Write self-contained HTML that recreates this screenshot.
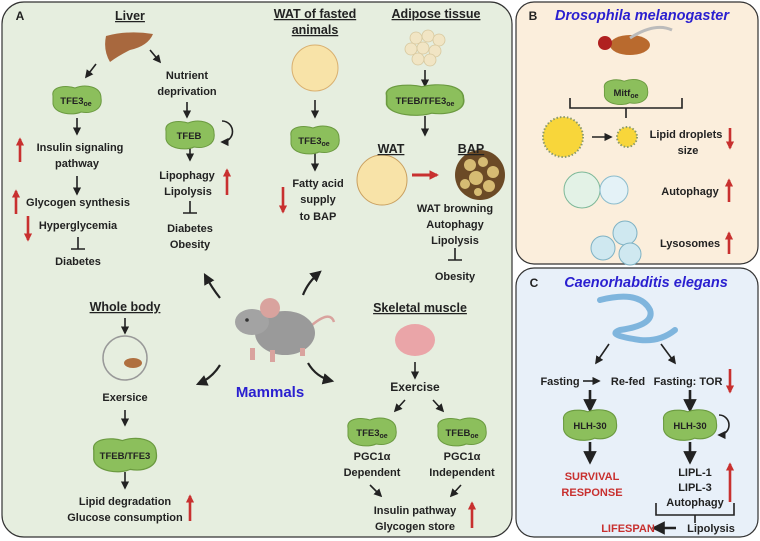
<!DOCTYPE html>
<html><head><meta charset="utf-8"><style>
html,body{margin:0;padding:0;background:#fff}
svg{display:block}
text{font-family:"Liberation Sans",Arial,sans-serif;font-weight:bold;font-size:11px;fill:#222;text-anchor:middle}
.t{font-size:12.5px;text-decoration:underline}
.red{fill:#c8302f}
.blue{fill:#2a1fd0;font-style:italic;font-size:14.5px}
.sm{font-size:9.5px}
</style></head><body>
<svg width="760" height="541" viewBox="0 0 760 541" xmlns="http://www.w3.org/2000/svg">
<defs>
<marker id="a" viewBox="0 0 10 10" refX="8" refY="5" markerWidth="5.2" markerHeight="5.2" orient="auto"><path d="M0,0L10,5L0,10z" fill="#222"/></marker>
<marker id="r" viewBox="0 0 10 10" refX="8" refY="5" markerWidth="3.2" markerHeight="3.2" orient="auto"><path d="M0,0L10,5L0,10z" fill="#c8302f"/></marker>
<path id="blob" d="M-24,-4 C-26,-14 -10,-15 -2,-12 C8,-16 24,-14 24,-2 C26,10 14,14 4,12 C-4,16 -22,14 -24,4 Z" fill="#8cbf5c" stroke="#6b9a40" stroke-width="1"/>
</defs>
<rect x="2" y="2" width="510" height="535" rx="22" fill="#e6eedf" stroke="#333" stroke-width="1.2"/>
<rect x="516" y="2" width="242" height="262" rx="18" fill="#fbeedc" stroke="#333" stroke-width="1.2"/>
<rect x="516" y="268" width="242" height="269" rx="18" fill="#e8f0f9" stroke="#333" stroke-width="1.2"/>

<g stroke="#222" stroke-width="1.6" fill="none">
<line x1="96" y1="64" x2="86" y2="77" marker-end="url(#a)"/>
<line x1="150" y1="50" x2="160" y2="62" marker-end="url(#a)"/>
<line x1="77" y1="118" x2="77" y2="134" marker-end="url(#a)"/>
<line x1="77" y1="176" x2="77" y2="194" marker-end="url(#a)"/>
<line x1="187" y1="102" x2="187" y2="117" marker-end="url(#a)"/>
<line x1="190" y1="145" x2="190" y2="160" marker-end="url(#a)"/>
<path d="M218,121 A10,10 0 1 1 218,142" marker-end="url(#a)" transform="translate(4,0)"/>
<path d="M78,237v12M71,249h14"/>
<path d="M190,201v12M183,213h14"/>
<line x1="315" y1="100" x2="315" y2="117" marker-end="url(#a)"/>
<line x1="315" y1="153" x2="315" y2="170" marker-end="url(#a)"/>
<line x1="425" y1="70" x2="425" y2="86" marker-end="url(#a)"/>
<line x1="425" y1="116" x2="425" y2="135" marker-end="url(#a)"/>
<path d="M455,248v12M448,260h14"/>
<path d="M220,298 Q212,288 205,275" stroke-width="2.2" marker-end="url(#a)"/>
<path d="M303,295 Q308,282 320,272" stroke-width="2.2" marker-end="url(#a)"/>
<path d="M220,365 Q212,378 198,384" stroke-width="2.2" marker-end="url(#a)"/>
<path d="M308,363 Q316,377 332,381" stroke-width="2.2" marker-end="url(#a)"/>
<line x1="125" y1="318" x2="125" y2="333" marker-end="url(#a)"/>
<line x1="125" y1="410" x2="125" y2="425" marker-end="url(#a)"/>
<line x1="125" y1="472" x2="125" y2="488" marker-end="url(#a)"/>
<line x1="415" y1="362" x2="415" y2="378" marker-end="url(#a)"/>
<line x1="405" y1="400" x2="395" y2="411" marker-end="url(#a)"/>
<line x1="433" y1="400" x2="443" y2="411" marker-end="url(#a)"/>
<line x1="370" y1="485" x2="381" y2="496" marker-end="url(#a)"/>
<line x1="461" y1="485" x2="451" y2="496" marker-end="url(#a)"/>
<path d="M570,98v10h112v-10M626,108v10"/>
<line x1="592" y1="137" x2="611" y2="137" marker-end="url(#a)"/>
<line x1="609" y1="344" x2="596" y2="363" marker-end="url(#a)"/>
<line x1="661" y1="344" x2="675" y2="363" marker-end="url(#a)"/>
<line x1="583" y1="381" x2="599" y2="381" marker-end="url(#a)"/>
<line x1="590" y1="390" x2="590" y2="410" stroke-width="2.6" marker-end="url(#a)"/>
<line x1="690" y1="390" x2="690" y2="410" stroke-width="2.6" marker-end="url(#a)"/>
<line x1="590" y1="442" x2="590" y2="462" stroke-width="2.6" marker-end="url(#a)"/>
<line x1="690" y1="442" x2="690" y2="462" stroke-width="2.6" marker-end="url(#a)"/>
<path d="M716,415 A10,10 0 1 1 716,435" marker-end="url(#a)" transform="translate(3,0)"/>
<path d="M656,503v12h78v-12M695,515v8"/>
<line x1="676" y1="528" x2="654" y2="528" stroke-width="2.6" marker-end="url(#a)"/>
</g>

<g stroke="#c8302f" stroke-width="2.6" fill="none">
<line x1="20" y1="162" x2="20" y2="139" marker-end="url(#r)"/>
<line x1="16" y1="214" x2="16" y2="191" marker-end="url(#r)"/>
<line x1="28" y1="216" x2="28" y2="240" marker-end="url(#r)"/>
<line x1="227" y1="195" x2="227" y2="170" marker-end="url(#r)"/>
<line x1="283" y1="187" x2="283" y2="212" marker-end="url(#r)"/>
<line x1="412" y1="175" x2="437" y2="175" stroke-width="3" marker-end="url(#r)"/>
<line x1="190" y1="521" x2="190" y2="496" marker-end="url(#r)"/>
<line x1="472" y1="528" x2="472" y2="503" marker-end="url(#r)"/>
<line x1="730" y1="128" x2="730" y2="148" marker-end="url(#r)"/>
<line x1="729" y1="202" x2="729" y2="180" marker-end="url(#r)"/>
<line x1="729" y1="254" x2="729" y2="233" marker-end="url(#r)"/>
<line x1="730" y1="369" x2="730" y2="392" marker-end="url(#r)"/>
<line x1="730" y1="502" x2="730" y2="464" marker-end="url(#r)"/>
</g>

<path d="M106,36 Q128,30 153,34 Q148,46 130,50 Q118,56 110,62 Q103,50 106,36z" fill="#a8683e"/>
<circle cx="315" cy="68" r="23" fill="#f8e3a8" stroke="#d9b070"/>
<g fill="#f1e5c4" stroke="#d7c89e" stroke-width="0.8">
<circle cx="416" cy="38" r="6"/><circle cx="428" cy="36" r="6"/><circle cx="439" cy="40" r="6"/><circle cx="411" cy="49" r="6"/><circle cx="423" cy="48" r="6"/><circle cx="435" cy="51" r="6"/><circle cx="418" cy="59" r="6"/><circle cx="430" cy="60" r="6"/></g>
<circle cx="382" cy="180" r="25" fill="#f8e3a8" stroke="#c9a060"/>
<circle cx="480" cy="175" r="25" fill="#6b4a26"/>
<g fill="#d6bb73"><circle cx="470" cy="165" r="6"/><circle cx="483" cy="162" r="5"/><circle cx="493" cy="172" r="6"/><circle cx="476" cy="178" r="7"/><circle cx="465" cy="184" r="5"/><circle cx="489" cy="186" r="6"/><circle cx="478" cy="192" r="4"/></g>
<path d="M312,325 Q330,310 334,322" stroke="#d9a39e" stroke-width="2.5" fill="none"/>
<ellipse cx="285" cy="333" rx="30" ry="22" fill="#9a9a9a"/>
<ellipse cx="252" cy="322" rx="17" ry="13" fill="#a3a3a3"/>
<circle cx="270" cy="308" r="10" fill="#d9a39e"/>
<circle cx="247" cy="320" r="1.8" fill="#333"/>
<g fill="#d9a39e"><rect x="250" y="348" width="5" height="12"/><rect x="270" y="350" width="5" height="12"/><rect x="300" y="348" width="5" height="8"/></g>
<circle cx="125" cy="358" r="22" fill="none" stroke="#999" stroke-width="1.5"/>
<ellipse cx="133" cy="363" rx="9" ry="5" fill="#b07040"/>
<ellipse cx="415" cy="340" rx="20" ry="16" fill="#eaa5a8"/>
<ellipse cx="630" cy="45" rx="20" ry="10" fill="#b96a2e"/><circle cx="605" cy="43" r="7" fill="#b02020"/>
<path d="M630,38 Q655,22 672,30" stroke="#bbb" fill="none" stroke-width="3"/>
<circle cx="563" cy="137" r="20" fill="#f8d63a" stroke="#8a9a6a" stroke-dasharray="1.5 2" stroke-width="2"/>
<circle cx="627" cy="137" r="10" fill="#f8d63a" stroke="#8a9a6a" stroke-dasharray="1.5 2" stroke-width="2"/>
<circle cx="582" cy="190" r="18" fill="#e3f2e6" stroke="#7db898"/>
<circle cx="614" cy="190" r="14" fill="#e4f2f7" stroke="#8bbccc"/>
<circle cx="603" cy="248" r="12" fill="#cfe8f0" stroke="#7fb2c4"/>
<circle cx="625" cy="233" r="12" fill="#cfe8f0" stroke="#7fb2c4"/>
<circle cx="630" cy="254" r="11" fill="#cfe8f0" stroke="#7fb2c4"/>
<path d="M600,300 Q640,290 650,310 Q655,325 620,330 Q605,335 640,340 Q660,342 675,330" stroke="#7fb5dd" stroke-width="6" fill="none" stroke-linecap="round"/>

<use href="#blob" transform="translate(77,100)"/>
<use href="#blob" transform="translate(190,135)"/>
<use href="#blob" transform="translate(315,140)"/>
<use href="#blob" transform="translate(425,100) scale(1.6,1.1)"/>
<use href="#blob" transform="translate(125,455) scale(1.3,1.2)"/>
<use href="#blob" transform="translate(372,432)"/>
<use href="#blob" transform="translate(462,432)"/>
<use href="#blob" transform="translate(626,92) scale(0.9,0.9)"/>
<use href="#blob" transform="translate(590,425) scale(1.1,1.1)"/>
<use href="#blob" transform="translate(690,425) scale(1.1,1.1)"/>

<text x="20" y="20" style="font-size:12px">A</text>
<text x="130" y="20" class="t">Liver</text>
<text x="76" y="104" class="sm">TFE3<tspan font-size="7" dy="2">oe</tspan></text>
<text x="187" y="79">Nutrient</text><text x="187" y="95">deprivation</text>
<text x="189" y="139" class="sm">TFEB</text>
<text x="80" y="151">Insulin signaling</text><text x="77" y="167">pathway</text>
<text x="78" y="206">Glycogen synthesis</text>
<text x="78" y="229">Hyperglycemia</text>
<text x="78" y="265">Diabetes</text>
<text x="187" y="179">Lipophagy</text><text x="188" y="195">Lipolysis</text>
<text x="190" y="232">Diabetes</text><text x="190" y="248">Obesity</text>
<text x="315" y="18" class="t">WAT of fasted</text><text x="315" y="34" class="t">animals</text>
<text x="314" y="144" class="sm">TFE3<tspan font-size="7" dy="2">oe</tspan></text>
<text x="318" y="187">Fatty acid</text><text x="318" y="203">supply</text><text x="318" y="220">to BAP</text>
<text x="436" y="18" class="t">Adipose tissue</text>
<text x="425" y="104" class="sm">TFEB/TFE3<tspan font-size="7" dy="2">oe</tspan></text>
<text x="391" y="153" class="t">WAT</text><text x="471" y="153" class="t">BAP</text>
<text x="455" y="212">WAT browning</text><text x="455" y="228">Autophagy</text><text x="455" y="244">Lipolysis</text>
<text x="455" y="280">Obesity</text>
<text x="125" y="311" class="t">Whole body</text>
<text x="125" y="401">Exersice</text>
<text x="125" y="459" class="sm">TFEB/TFE3</text>
<text x="125" y="505">Lipid degradation</text><text x="125" y="521">Glucose consumption</text>
<text x="270" y="397" style="fill:#2a1fd0;font-size:15px">Mammals</text>
<text x="420" y="312" class="t">Skeletal muscle</text>
<text x="415" y="391" style="font-size:12px">Exercise</text>
<text x="372" y="436" class="sm">TFE3<tspan font-size="7" dy="2">oe</tspan></text>
<text x="462" y="436" class="sm">TFEB<tspan font-size="7" dy="2">oe</tspan></text>
<text x="372" y="460">PGC1α</text><text x="372" y="476">Dependent</text>
<text x="462" y="460">PGC1α</text><text x="462" y="476">Independent</text>
<text x="415" y="514">Insulin pathway</text><text x="415" y="530">Glycogen store</text>
<text x="533" y="20" style="font-size:12px">B</text>
<text x="642" y="20" class="blue">Drosophila melanogaster</text>
<text x="626" y="96" class="sm">Mitf<tspan font-size="7" dy="2">oe</tspan></text>
<text x="686" y="138">Lipid droplets</text><text x="688" y="154">size</text>
<text x="690" y="195">Autophagy</text>
<text x="690" y="247">Lysosomes</text>
<text x="534" y="287" style="font-size:12px">C</text>
<text x="646" y="287" class="blue">Caenorhabditis elegans</text>
<text x="560" y="385">Fasting</text><text x="628" y="385">Re-fed</text>
<text x="688" y="385">Fasting: TOR</text>
<text x="590" y="429" class="sm">HLH-30</text><text x="690" y="429" class="sm">HLH-30</text>
<text x="592" y="480" class="red">SURVIVAL</text><text x="592" y="496" class="red">RESPONSE</text>
<text x="695" y="476">LIPL-1</text><text x="695" y="491">LIPL-3</text><text x="695" y="506">Autophagy</text>
<text x="628" y="532" class="red">LIFESPAN</text>
<text x="711" y="532">Lipolysis</text>
</svg>
</body></html>
